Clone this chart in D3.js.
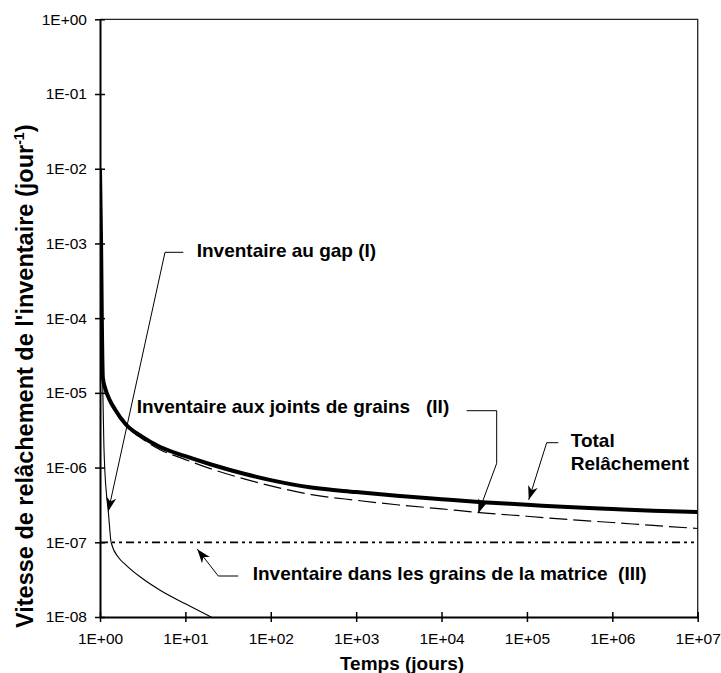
<!DOCTYPE html>
<html lang="fr">
<head>
<meta charset="UTF-8">
<title>Vitesse de relâchement de l'inventaire</title>
<script src="https://cdnjs.cloudflare.com/ajax/libs/d3/7.8.5/d3.min.js"></script>
<style>
    body { margin: 0; background: #fff; }
    svg { display: block; font-family: "Liberation Sans", Arial, sans-serif; }
    .tick text { font-size: 15.5px; fill: #000; }
    .ann { font-weight: bold; font-size: 19px; white-space: pre; }
</style>
</head>
<body>
<div id="chart"></div>
<script>
// release rates (1/day), time in days
const gapTime  = [1, 1.03, 1.05, 1.08, 1.11, 1.14, 1.2, 1.25, 1.35, 1.64, 2, 3, 5, 10, 20, 50];
const gapRate  = [1e-2, 1e-3, 1e-4, 1e-5, 2e-6, 9e-7, 4e-7, 2.6e-7, 1e-7, 6.3e-8, 5e-8, 3.4e-8, 2.3e-8, 1.5e-8, 1e-8, 6e-9];

const jointTime = [1, 1.03, 1.05, 1.08, 1.15, 1.3, 1.5, 2, 3, 5, 10, 20, 50, 100, 300, 1e3, 3e3, 1e4, 3e4, 1e5, 3e5, 1e6, 3e6, 1e7];
const jointRate = [2.2e-5, 2e-5, 1.8e-5, 1.55e-5, 1.12e-5, 7.8e-6, 5.85e-6, 3.65e-6, 2.5e-6, 1.75e-6, 1.28e-6, 9.6e-7, 7e-7, 5.7e-7, 4.35e-7, 3.65e-7, 3.18e-7, 2.8e-7, 2.48e-7, 2.23e-7, 2.02e-7, 1.84e-7, 1.68e-7, 1.53e-7];

const matrixTime = [1, 1e7];
const matrixRate = [1e-7, 1e-7];

const totalTime = [1, 1.03, 1.05, 1.08, 1.15, 1.3, 1.5, 2, 3, 5, 10, 20, 50, 100, 300, 1e3, 3e3, 1e4, 3e4, 1e5, 3e5, 1e6, 3e6, 1e7];
const totalRate = [1e-2, 1e-3, 1e-4, 1.6e-5, 1.15e-5, 8e-6, 6e-6, 3.8e-6, 2.65e-6, 1.9e-6, 1.42e-6, 1.1e-6, 8.2e-7, 6.8e-7, 5.4e-7, 4.7e-7, 4.19e-7, 3.77e-7, 3.44e-7, 3.18e-7, 2.96e-7, 2.79e-7, 2.65e-7, 2.54e-7];

const xTicks = [1, 1e1, 1e2, 1e3, 1e4, 1e5, 1e6, 1e7];
const xTickLabels = ["1E+00", "1E+01", "1E+02", "1E+03", "1E+04", "1E+05", "1E+06", "1E+07"];
const yTicks = [1e-8, 1e-7, 1e-6, 1e-5, 1e-4, 1e-3, 1e-2, 1e-1, 1];
const yTickLabels = ["1E-08", "1E-07", "1E-06", "1E-05", "1E-04", "1E-03", "1E-02", "1E-01", "1E+00"];

const width = 721, height = 673;
const plotLeft = 100, plotRight = 697.7, plotTop = 19.3, plotBottom = 617;

const x = d3.scaleLog().domain([1, 1e7]).range([plotLeft, plotRight]);
const y = d3.scaleLog().domain([1e-8, 1]).range([plotBottom, plotTop]);

const svg = d3.select("#chart").append("svg")
    .attr("width", width)
    .attr("height", height);

const defs = svg.append("defs");
defs.append("clipPath").attr("id", "plot")
    .append("rect")
    .attr("x", plotLeft).attr("y", plotTop)
    .attr("width", plotRight - plotLeft).attr("height", plotBottom - plotTop);

const arrow = defs.append("marker")
    .attr("id", "arrow")
    .attr("markerUnits", "userSpaceOnUse")
    .attr("viewBox", "-15 -6 16 12")
    .attr("refX", 0).attr("refY", 0)
    .attr("markerWidth", 16).attr("markerHeight", 12)
    .attr("orient", "auto");
arrow.append("path").attr("d", "M0,0 L-14,-5 L-10,0 L-14,5 Z").attr("fill", "#000");

// frame: thin top / right border
svg.append("path")
    .attr("d", `M${plotLeft},${plotTop} H${plotRight} V${plotBottom}`)
    .attr("fill", "none").attr("stroke", "#222").attr("stroke-width", 1.3);

// series
const line = d3.line()
    .x(d => x(d[0]))
    .y(d => y(d[1]))
    .curve(d3.curveMonotoneX);

const plot = svg.append("g").attr("clip-path", "url(#plot)");

plot.append("path")
    .datum(d3.zip(matrixTime, matrixRate))
    .attr("d", line)
    .attr("fill", "none").attr("stroke", "#000").attr("stroke-width", 1.8)
    .attr("stroke-dasharray", "8,4,3,4,3,4");

plot.append("path")
    .datum(d3.zip(gapTime, gapRate))
    .attr("d", line)
    .attr("fill", "none").attr("stroke", "#000").attr("stroke-width", 1.1);

plot.append("path")
    .datum(d3.zip(jointTime, jointRate))
    .attr("d", line)
    .attr("fill", "none").attr("stroke", "#000").attr("stroke-width", 1.2)
    .attr("stroke-dasharray", "18,6");

plot.append("path")
    .datum(d3.zip(totalTime, totalRate))
    .attr("d", line)
    .attr("fill", "none").attr("stroke", "#000").attr("stroke-width", 4);

// axes with ticks crossing the axis line
const yAxis = svg.append("g")
    .attr("transform", `translate(${plotLeft},0)`)
    .call(d3.axisLeft(y).tickValues(yTicks)
        .tickFormat((d, i) => yTickLabels[i])
        .tickSize(5).tickSizeOuter(0).tickPadding(8));
yAxis.selectAll(".tick line").attr("x1", 5).attr("stroke-width", 1.5);
yAxis.select(".domain").attr("stroke-width", 2);

const xAxis = svg.append("g")
    .attr("transform", `translate(0,${plotBottom})`)
    .call(d3.axisBottom(x).tickValues(xTicks)
        .tickFormat((d, i) => xTickLabels[i])
        .tickSize(5).tickSizeOuter(0).tickPadding(10.5));
xAxis.selectAll(".tick line").attr("y1", -5).attr("stroke-width", 1.5);
xAxis.select(".domain").attr("stroke-width", 2);
svg.selectAll("g[font-family]").attr("font-family", null).attr("font-size", null);

// axis titles
svg.append("text")
    .attr("x", 402).attr("y", 670)
    .attr("text-anchor", "middle")
    .attr("font-weight", "bold").attr("font-size", 19)
    .text("Temps (jours)");

const yTitle = svg.append("text")
    .attr("transform", "translate(33,628) rotate(-90)")
    .attr("font-weight", "bold").attr("font-size", 23.5);
yTitle.append("tspan").text("Vitesse de relâchement de l'inventaire (jour");
yTitle.append("tspan").attr("font-size", 14).attr("dy", -9).text("-1");
yTitle.append("tspan").attr("dy", 9).text(")");

// annotations: arrow tip in data units, leader elbows and labels in pixels
const notes = [
    {lines: ["Inventaire au gap (I)"], tx: 196.7, ty: 256.7,
     path: [[183.3, 252.3], [165, 252.3]], tip: [1.25, 2.6e-7]},
    {lines: ["Inventaire aux joints de grains   (II)"], tx: 136.7, ty: 413,
     path: [[466.7, 410.7], [496.7, 410.7], [496.7, 463.3]], tip: [26900, 2.45e-7]},
    {lines: ["Total", "Relâchement"], tx: 570.7, ty: 446.5,
     path: [[558.3, 442.7], [546.7, 442.7]], tip: [1.05e5, 3.7e-7]},
    {lines: ["Inventaire dans les grains de la matrice  (III)"], tx: 252.7, ty: 580,
     path: [[238.3, 576], [218.3, 576]], tip: [13.8, 8.1e-8]}
];

notes.forEach(n => {
    const pts = n.path.concat([[x(n.tip[0]), y(n.tip[1])]]);
    svg.append("path")
        .attr("d", d3.line()(pts))
        .attr("fill", "none").attr("stroke", "#000").attr("stroke-width", 1)
        .attr("marker-end", "url(#arrow)");
    const t = svg.append("text").attr("class", "ann");
    n.lines.forEach((s, i) => {
        t.append("tspan").attr("x", n.tx).attr("y", n.ty + i * 23.5).text(s);
    });
});
</script>
</body>
</html>
